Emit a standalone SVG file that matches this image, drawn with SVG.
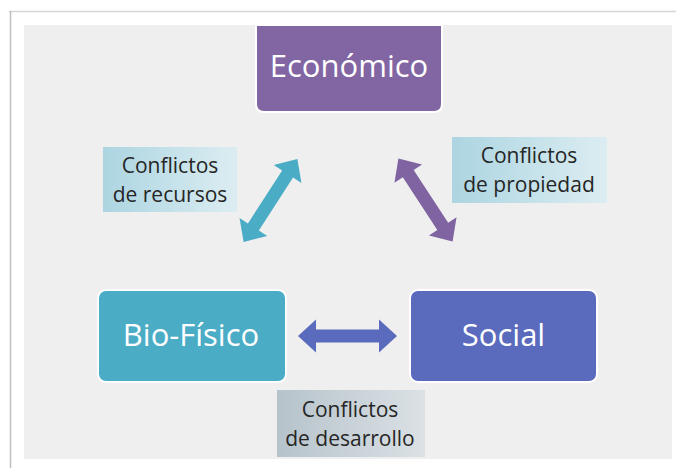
<svg xmlns="http://www.w3.org/2000/svg" width="676" height="468" viewBox="0 0 676 468">
  <style>
    .node-text { font-family: "Open Sans", "Liberation Sans", sans-serif; font-size: 31px; fill: #ffffff; text-anchor: middle; }
    .label-text { font-family: "Open Sans", "Liberation Sans", sans-serif; font-size: 21px; fill: #262626; text-anchor: middle; }
    .box { stroke: #ffffff; stroke-width: 2; }
  </style>
  <defs>
    <linearGradient id="gBlue" x1="0" y1="0" x2="1" y2="0">
      <stop offset="0" stop-color="#acd5e1"/>
      <stop offset="1" stop-color="#dcedf2"/>
    </linearGradient>
    <linearGradient id="gGray" x1="0" y1="0" x2="1" y2="0">
      <stop offset="0" stop-color="#b6c3cb"/>
      <stop offset="1" stop-color="#dbe1e5"/>
    </linearGradient>
    <path id="dblArrow" d="M -49.5 0 L -31.5 -16.5 L -31.5 -6.5 L 31.5 -6.5 L 31.5 -16.5 L 49.5 0 L 31.5 16.5 L 31.5 6.5 L -31.5 6.5 L -31.5 16.5 Z"/>
  </defs>

  <rect x="0" y="0" width="676" height="468" fill="#ffffff"/>
  <line x1="9" y1="11.5" x2="676" y2="11.5" stroke="#d6d6d6" stroke-width="1.5"/>
  <line x1="10.5" y1="11" x2="10.5" y2="468" stroke="#bfbfbf" stroke-width="1.5"/>
  <rect x="24" y="25" width="648" height="434" fill="#efefef"/>

  <g id="connectors">
    <use href="#dblArrow" fill="#4bacc6" transform="translate(270.5 200.5) rotate(-57.1)"/>
    <use href="#dblArrow" fill="#8064a2" transform="translate(425.5 200) rotate(56.8)"/>
    <use href="#dblArrow" fill="#5a6abd" transform="translate(347.5 336)"/>
  </g>

  <g id="node-economico">
    <path class="box" d="M 256 25 L 442 25 L 442 104 Q 442 112 434 112 L 264 112 Q 256 112 256 104 Z" fill="#8265a3"/>
    <text class="node-text" x="349" y="77">Económico</text>
  </g>

  <g id="node-biofisico">
    <rect class="box" x="98" y="290" width="188" height="92" rx="8" fill="#4bacc6"/>
    <text class="node-text" x="191" y="346">Bio-Físico</text>
  </g>

  <g id="node-social">
    <rect class="box" x="410" y="290" width="187" height="92" rx="8" fill="#5a6abd"/>
    <text class="node-text" x="503.5" y="346">Social</text>
  </g>

  <g id="label-recursos">
    <rect x="103" y="147" width="134" height="65" fill="url(#gBlue)"/>
    <text class="label-text" x="170" y="172.5">Conflictos</text>
    <text class="label-text" x="170" y="201.5">de recursos</text>
  </g>

  <g id="label-propiedad">
    <rect x="452" y="137" width="155" height="66" fill="url(#gBlue)"/>
    <text class="label-text" x="529" y="163">Conflictos</text>
    <text class="label-text" x="529" y="192">de propiedad</text>
  </g>

  <g id="label-desarrollo">
    <rect x="277" y="390" width="148" height="67" fill="url(#gGray)"/>
    <text class="label-text" x="350" y="416.5">Conflictos</text>
    <text class="label-text" x="350" y="445.5">de desarrollo</text>
  </g>
</svg>
